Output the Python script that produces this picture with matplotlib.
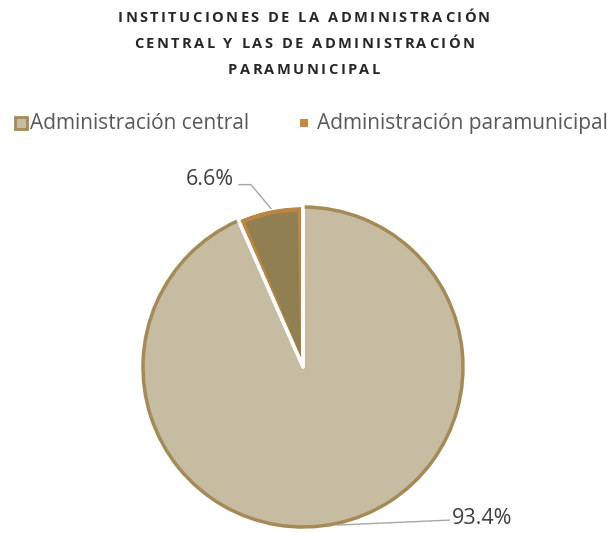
# -*- coding: utf-8 -*-
import matplotlib.pyplot as plt
from matplotlib.patches import Arc, Wedge

titulo = ["INSTITUCIONES DE LA ADMINISTRACIÓN",
          "CENTRAL Y LAS DE ADMINISTRACIÓN",
          "PARAMUNICIPAL"]
categorias = ["Administración central", "Administración paramunicipal"]
valores = [93.4, 6.6]
etiquetas = ["93.4%", "6.6%"]
colores = ["#C5BCA2", "#8F7F51"]
bordes = ["#A68A55", "#C9873F"]

plt.rcParams['font.family'] = ['Open Sans', 'DejaVu Sans']

W, H, dpi = 609, 533, 100
fig = plt.figure(figsize=(W / dpi, H / dpi), dpi=dpi)
r = fig.canvas.get_renderer()

# title with letter spacing (each letter placed by its own width)
kw_t = dict(fontsize=10.5, fontweight='bold', color='#262626')
cache = {}

def ancho(c):
    if c == " ":
        return 4.0
    if c not in cache:
        t = fig.text(0, 0, c, **kw_t)
        cache[c] = t.get_window_extent(r).width
        t.remove()
    return cache[c]

def natural(s):
    return sum(ancho(c) for c in s)

target = 372
track = (target - natural(titulo[0])) / (len(titulo[0]) - 1)
for i, linea in enumerate(titulo):
    total = natural(linea) + track * (len(linea) - 1)
    x = 304 - total / 2
    y = H - (18 + 26 * i)
    for c in linea:
        if c != " ":
            fig.text((x + ancho(c) / 2) / W, y / H, c, ha='center', va='center', **kw_t)
        x += ancho(c) + track

# pie axes: radius 163 px, center (303, 367)
R, cx, cy, side = 163, 303, 367, 400
ax = fig.add_axes([(cx - side / 2) / W, 1 - (cy + side / 2) / H, side / W, side / H])
L = side / 2 / R
ax.set_xlim(-L, L)
ax.set_ylim(-L, L)
ax.set_aspect('equal')
ax.axis('off')

wedges, _ = ax.pie(valores, colors=colores, startangle=90, counterclock=False,
                   radius=1, wedgeprops=dict(edgecolor='none'))

# orange inner border of the small slice
a_small = valores[1] * 3.6
ax.add_patch(Wedge((0, 0), 0.985, 90 + 1.2, 90 + a_small - 1.2,
                   facecolor='none', edgecolor=bordes[1], lw=3, alpha=0.8))

# white separators
ang = 90
for v in valores:
    ax.add_patch(Wedge((0, 0), 1.01, ang - v * 3.6, ang, facecolor='none',
                       edgecolor='white', lw=2.5, joinstyle='round'))
    ang -= v * 3.6

# outer border of the big slice
ax.add_patch(Arc((0, 0), 2, 2, theta1=90 + a_small + 0.6, theta2=450 - 0.6,
                 color=bordes[0], lw=2.5))

# labels with leader lines
ax.plot([-0.40, -0.325, -0.20], [1.14, 1.14, 0.99], color='#A6A6A6', lw=1)
ax.text(-0.43, 1.17, etiquetas[1], ha='right', va='center', fontsize=15.5, color='#404040')
ax.plot([0.215, 0.914], [-0.988, -0.957], color='#A6A6A6', lw=1)
ax.text(0.93, -0.95, etiquetas[0], ha='left', va='center', fontsize=15.5, color='#404040')

# legend
ly = 1 - 123 / H
fig.patches.append(plt.Rectangle((15 / W, ly - 6 / H), 12 / W, 12 / H, transform=fig.transFigure,
                                 facecolor=colores[0], edgecolor=bordes[0], lw=2))
fig.text(30 / W, ly, categorias[0], ha='left', va='center', fontsize=15, color='#595959')
fig.patches.append(plt.Rectangle((300 / W, ly - 4 / H), 8 / W, 8 / H, transform=fig.transFigure,
                                 facecolor=bordes[1], edgecolor='none'))
fig.text(317 / W, ly, categorias[1], ha='left', va='center', fontsize=15, color='#595959')

fig.savefig("out.png", dpi=dpi)
